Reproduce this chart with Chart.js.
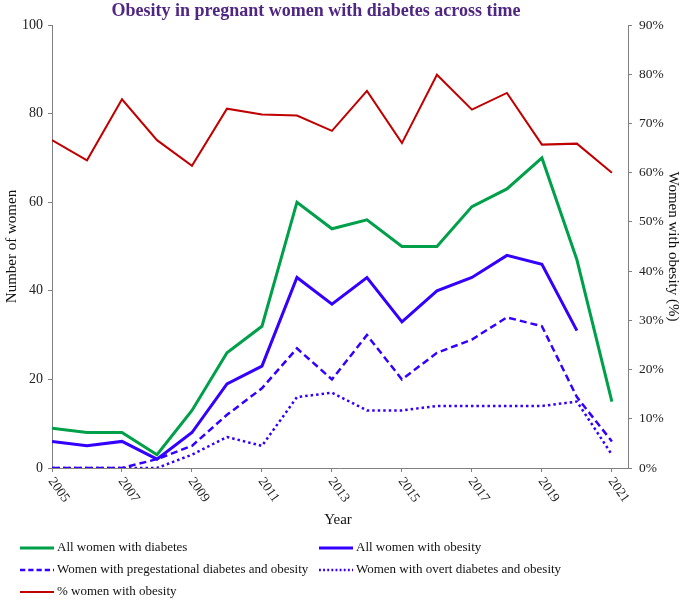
<!DOCTYPE html>
<html>
<head>
<meta charset="utf-8">
<style>
    html, body { margin: 0; padding: 0; background: #fff; }
    #wrap { width: 685px; height: 602px; position: relative; }
</style>
<script src="https://cdn.jsdelivr.net/npm/chart.js@4"></script>
</head>
<body>
<div id="wrap"><canvas id="obesityChart" width="685" height="602"></canvas></div>
<script>
// ── Data ──────────────────────────────────────────────────────────────

const years          = [2005, 2006, 2007, 2008, 2009, 2010, 2011, 2012, 2013, 2014, 2015, 2016, 2017, 2018, 2019, 2020, 2021];
const allDiabetes    = [9, 8, 8, 3, 13, 26, 32, 60, 54, 56, 50, 50, 59, 63, 70, 47, 15];
const allObesity     = [6, 5, 6, 2, 8, 19, 23, 43, 37, 43, 33, 40, 43, 48, 46, 31, null];
const pregestational = [0, 0, 0, 2, 5, 12, 18, 27, 20, 30, 20, 26, 29, 34, 32, 16, 6];
const overt          = [0, 0, 0, 0, 3, 7, 5, 16, 17, 13, 13, 14, 14, 14, 14, 15, 3];
const pctObesity     = [66.6, 62.5, 74.9, 66.6, 61.4, 73.0, 71.8, 71.6, 68.5, 76.6, 66.0, 79.9, 72.8, 76.2, 65.7, 65.9, 60.0];

const xTicks     = [2005, 2007, 2009, 2011, 2013, 2015, 2017, 2019, 2021];
const leftTicks  = [0, 20, 40, 60, 80, 100];
const rightTicks = [0, 10, 20, 30, 40, 50, 60, 70, 80, 90];

const SERIF = '"Liberation Serif", "Times New Roman", serif';
const AXIS  = '#808080';

const toPoints = arr => years.map((y, i) => ({ x: y, y: arr[i] }));
const setTicks = list => axis => { axis.ticks = list.map(v => ({ value: v })); };

// ── Custom text: title, axis titles, slanted year labels, legend ──────

const textPlugin = {
    id: 'textPlugin',
    afterDraw(chart) {
        const ctx = chart.ctx;
        const area = chart.chartArea;
        const midY = (area.top + area.bottom) / 2;
        ctx.save();

        ctx.fillStyle = '#4f2682';
        ctx.font = `bold 18px ${SERIF}`;
        ctx.textAlign = 'center';
        ctx.textBaseline = 'middle';
        ctx.fillText('Obesity in pregnant women with diabetes across time', 316, 11);

        ctx.fillStyle = '#111';
        ctx.font = `15px ${SERIF}`;
        ctx.fillText('Year', 338, 520);

        ctx.save();
        ctx.translate(12, midY);
        ctx.rotate(-Math.PI / 2);
        ctx.fillText('Number of women', 0, 0);
        ctx.restore();

        ctx.save();
        ctx.translate(673, midY);
        ctx.rotate(Math.PI / 2);
        ctx.fillText('Women with obesity (%)', 0, 0);
        ctx.restore();

        // year labels, slanted down to the right
        const xs = chart.scales.x;
        ctx.font = `13.5px ${SERIF}`;
        ctx.fillStyle = '#222';
        ctx.textAlign = 'left';
        xs.ticks.forEach(t => {
            ctx.save();
            ctx.translate(xs.getPixelForValue(t.value) - 1, area.bottom + 11);
            ctx.rotate(55 * Math.PI / 180);
            ctx.fillText(String(t.value), 0, 0);
            ctx.restore();
        });

        // legend in two columns
        const slots = [[20, 548], [319, 548], [20, 570], [319, 570], [20, 592]];
        ctx.font = `13px ${SERIF}`;
        ctx.textBaseline = 'middle';
        chart.data.datasets.forEach((ds, i) => {
            const [lx, ly] = slots[i];
            ctx.save();
            ctx.strokeStyle = ds.borderColor;
            ctx.lineWidth = ds.borderWidth;
            ctx.setLineDash(ds.borderDash ? ds.borderDash.map(d => d * 0.75) : []);
            ctx.beginPath();
            ctx.moveTo(lx, ly);
            ctx.lineTo(lx + 34, ly);
            ctx.stroke();
            ctx.restore();
            ctx.fillStyle = '#111';
            ctx.fillText(ds.label, lx + 37, ly);
        });

        ctx.restore();
    },
};

// ── Chart ─────────────────────────────────────────────────────────────

new Chart(document.getElementById('obesityChart'), {
    type: 'line',
    data: {
        datasets: [
            { label: 'All women with diabetes', data: toPoints(allDiabetes), borderColor: '#00a04a', borderWidth: 3, yAxisID: 'y' },
            { label: 'All women with obesity', data: toPoints(allObesity), borderColor: '#3300ff', borderWidth: 3, yAxisID: 'y' },
            { label: 'Women with pregestational diabetes and obesity', data: toPoints(pregestational), borderColor: '#3300ff', borderWidth: 2.5, borderDash: [7, 4], yAxisID: 'y' },
            { label: 'Women with overt diabetes and obesity', data: toPoints(overt), borderColor: '#3300ff', borderWidth: 2.5, borderDash: [2.5, 3], yAxisID: 'y' },
            { label: '% women with obesity', data: toPoints(pctObesity), borderColor: '#c00000', borderWidth: 2, yAxisID: 'y1' },
        ],
    },
    options: {
        responsive: false,
        animation: false,
        spanGaps: false,
        elements: { point: { radius: 0 }, line: { tension: 0, fill: false } },
        layout: { padding: { top: 25, left: 0, right: 0, bottom: 130 } },
        plugins: { legend: { display: false }, title: { display: false }, tooltip: { enabled: false } },
        scales: {
            x: {
                type: 'linear',
                min: 2005,
                max: 2021.46,
                afterBuildTicks: setTicks(xTicks),
                afterFit: s => { s.height = 4; },
                ticks: { display: false },
                grid: { drawOnChartArea: false, drawTicks: true, tickLength: 4, color: AXIS },
                border: { display: true, color: AXIS },
            },
            y: {
                position: 'left',
                min: 0,
                max: 100,
                afterBuildTicks: setTicks(leftTicks),
                afterFit: s => { s.width = 52; },
                ticks: { font: { family: SERIF, size: 14 }, color: '#222', padding: 5 },
                grid: { drawOnChartArea: false, tickLength: 4, color: AXIS },
                border: { display: true, color: AXIS },
            },
            y1: {
                position: 'right',
                min: 0,
                max: 90,
                afterBuildTicks: setTicks(rightTicks),
                afterFit: s => { s.width = 57; },
                ticks: { font: { family: SERIF, size: 13.5 }, color: '#222', padding: 7, callback: v => v + '%' },
                grid: { drawOnChartArea: false, tickLength: 4, color: AXIS },
                border: { display: true, color: AXIS },
            },
        },
    },
    plugins: [textPlugin],
});
</script>
</body>
</html>
